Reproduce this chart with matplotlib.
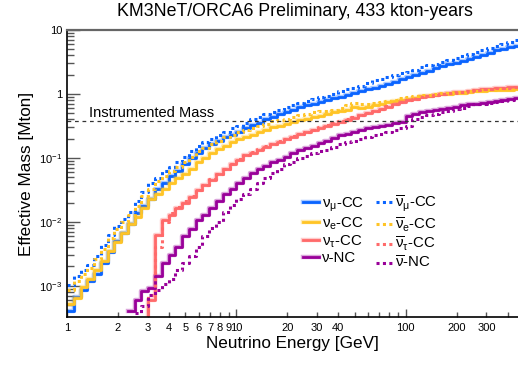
import numpy as np
import matplotlib
matplotlib.use("Agg")
import matplotlib.pyplot as plt
import matplotlib.patheffects as pe

plt.rcParams['font.family'] = ['Liberation Sans', 'DejaVu Sans']
plt.rcParams['mathtext.fontset'] = 'custom'
plt.rcParams['mathtext.rm'] = 'Liberation Sans'
plt.rcParams['mathtext.it'] = 'Liberation Sans:italic'

# energy binning: 25 log bins per decade starting at 1 GeV
n_bins = 67
edges = 10 ** (np.arange(n_bins + 1) / 25.0)

# log10 of effective mass [Mton] per bin (nan = no entry)
nan = np.nan
log_numu_cc = [-3.39, -3.18, -3.07, -2.93, -2.81, -2.65, -2.47, -2.30, -2.17, -2.04,
               -1.87, -1.75, -1.64, -1.48, -1.39, -1.29, -1.20, -1.10, -1.01, -0.92,
               -0.84, -0.78, -0.73, -0.68, -0.64, -0.59, -0.53, -0.48, -0.45, -0.40,
               -0.355, -0.32, -0.29, -0.25, -0.21, -0.18, -0.15, -0.12, -0.10, -0.07,
               -0.05, -0.02, 0.01, 0.04, 0.07, 0.10, 0.13, 0.16, 0.19, 0.23,
               0.27, 0.30, 0.33, 0.36, 0.40, 0.43, 0.47, 0.49, 0.52, 0.55,
               0.58, 0.61, 0.645, 0.68, 0.70, 0.73, 0.755]
log_numubar_cc = [-2.99, -2.85, -2.76, -2.68, -2.54, -2.37, -2.21, -2.07, -1.95, -1.84,
                  -1.68, -1.53, -1.40, -1.31, -1.21, -1.14, -1.06, -0.98, -0.90, -0.82,
                  -0.76, -0.70, -0.65, -0.59, -0.54, -0.50, -0.45, -0.40, -0.355, -0.31,
                  -0.28, -0.245, -0.21, -0.175, -0.135, -0.105, -0.075, -0.05, -0.025, 0.005,
                  0.045, 0.075, 0.10, 0.13, 0.17, 0.21, 0.24, 0.27, 0.30, 0.325,
                  0.35, 0.38, 0.42, 0.45, 0.47, 0.50, 0.535, 0.56, 0.59, 0.62,
                  0.655, 0.685, 0.715, 0.755, 0.785, 0.82, 0.85]
log_nue_cc = [-3.29, -3.20, -3.02, -2.90, -2.76, -2.62, -2.46, -2.31, -2.17, -2.04,
              -1.92, -1.78, -1.65, -1.57, -1.48, -1.40, -1.32, -1.25, -1.17, -1.07,
              -0.995, -0.92, -0.855, -0.81, -0.76, -0.71, -0.675, -0.635, -0.60, -0.565,
              -0.525, -0.495, -0.465, -0.44, -0.415, -0.385, -0.36, -0.34, -0.315, -0.29,
              -0.275, -0.245, -0.20, -0.215, -0.20, -0.175, -0.15, -0.13, -0.105, -0.09,
              -0.075, -0.06, -0.04, -0.035, -0.02, -0.005, 0.005, 0.01, 0.02, 0.035,
              0.045, 0.05, 0.06, 0.06, 0.065, 0.065, 0.075]
log_nuebar_cc = [-3.07, -2.92, -2.81, -2.73, -2.59, -2.43, -2.26, -2.12, -2.00, -1.89,
                 -1.75, -1.60, -1.48, -1.37, -1.29, -1.21, -1.14, -1.06, -0.98, -0.90,
                 -0.84, -0.78, -0.73, -0.68, -0.64, -0.59, -0.56, -0.53, -0.495, -0.465,
                 -0.43, -0.41, -0.385, -0.355, -0.33, -0.31, -0.29, -0.275, -0.26, -0.245,
                 -0.215, -0.175, -0.135, -0.165, -0.15, -0.135, -0.12, -0.105, -0.09, -0.065,
                 -0.05, -0.035, -0.02, -0.01, 0.005, 0.01, 0.02, 0.03, 0.035, 0.045,
                 0.05, 0.06, 0.065, 0.065, 0.075, 0.075, 0.08]
log_nutau_cc = [nan, nan, nan, nan, nan, nan, nan, nan, nan, nan,
                nan, -5.0, -3.23, -2.21, -1.98, -1.89, -1.79, -1.70, -1.62, -1.51,
                -1.43, -1.34, -1.26, -1.18, -1.10, -1.03, -0.96, -0.917, -0.87, -0.823,
                -0.784, -0.745, -0.706, -0.667, -0.628, -0.597, -0.566, -0.527, -0.495, -0.472,
                -0.433, -0.402, -0.37, -0.331, -0.30, -0.269, -0.23, -0.198, -0.159, -0.128,
                -0.097, -0.073, -0.05, -0.034, -0.011, 0.005, 0.02, 0.028, 0.036, 0.052,
                0.067, 0.075, 0.083, 0.091, 0.098, 0.106, 0.114]
log_nutaubar_cc = [nan, nan, nan, nan, nan, nan, nan, nan, nan, nan,
                   nan, -5.0, -3.15, -2.40, -2.00, -1.86, -1.77, -1.68, -1.60, -1.50,
                   -1.42, -1.33, -1.25, -1.17, -1.09, -1.02, -0.95, -0.91, -0.86, -0.82,
                   -0.78, -0.74, -0.70, -0.66, -0.62, -0.59, -0.56, -0.52, -0.49, -0.46,
                   -0.43, -0.40, -0.36, -0.33, -0.30, -0.265, -0.23, -0.195, -0.16, -0.13,
                   -0.10, -0.075, -0.05, -0.03, -0.015, 0.00, 0.01, 0.02, 0.03, 0.045,
                   0.06, 0.07, 0.08, 0.085, 0.09, 0.10, 0.11]
log_nu_nc = [nan, nan, nan, nan, nan, nan, nan, nan, nan, -3.39,
             -3.23, -3.09, -3.03, -2.85, -2.65, -2.52, -2.39, -2.23, -2.12, -1.98,
             -1.89, -1.78, -1.67, -1.57, -1.48, -1.39, -1.32, -1.245, -1.17, -1.12,
             -1.07, -1.03, -0.98, -0.93, -0.885, -0.85, -0.81, -0.77, -0.73, -0.69,
             -0.65, -0.62, -0.59, -0.565, -0.54, -0.52, -0.495, -0.48, -0.455, -0.44,
             -0.34, -0.315, -0.29, -0.27, -0.245, -0.23, -0.215, -0.20, -0.18, -0.165,
             -0.15, -0.135, -0.12, -0.105, -0.09, -0.075, -0.06]
log_nubar_nc = [nan, nan, nan, nan, nan, nan, nan, nan, nan, nan,
                -3.42, -3.32, -3.15, -3.07, -2.98, -2.89, -2.76, -2.65, -2.53, -2.39,
                -2.23, -2.10, -2.00, -1.85, -1.745, -1.65, -1.57, -1.48, -1.39, -1.31,
                -1.23, -1.17, -1.10, -1.06, -1.01, -0.97, -0.93, -0.90, -0.87, -0.83,
                -0.79, -0.76, -0.73, -0.705, -0.68, -0.65, -0.62, -0.59, -0.56, -0.535,
                -0.495, -0.385, -0.355, -0.33, -0.31, -0.285, -0.26, -0.24, -0.215, -0.19,
                -0.165, -0.15, -0.135, -0.12, -0.105, -0.09, -0.075]

instrumented_mass = 0.373  # Mton

blue = '#0a64ff'
yellow = '#ffc426'
red = '#ff6a6a'
purple = '#990099'

series = [
    (log_numu_cc, blue, '-', r'ν$_\mathrm{μ}$-CC'),
    (log_nue_cc, yellow, '-', r'ν$_\mathrm{e}$-CC'),
    (log_nutau_cc, red, '-', r'ν$_\mathrm{τ}$-CC'),
    (log_nu_nc, purple, '-', 'ν-NC'),
    (log_numubar_cc, blue, ':', r'$\mathrm{\overline{ν}_{μ}}$-CC'),
    (log_nuebar_cc, yellow, ':', r'$\mathrm{\overline{ν}_{e}}$-CC'),
    (log_nutaubar_cc, red, ':', r'$\mathrm{\overline{ν}_{τ}}$-CC'),
    (log_nubar_nc, purple, ':', r'$\mathrm{\overline{ν}}$-NC'),
]

fig = plt.figure(figsize=(5.18, 3.69), dpi=100)
ax = fig.add_axes([67 / 518, 1 - 317.3 / 369, (518 - 67) / 518, (317.3 - 30) / 369])

for vals, col, ls, lab in series:
    m = 10 ** np.array(vals, dtype=float)
    y = np.append(m, m[-1])
    if ls == '-':
        ax.step(edges, y, where='post', color=col, lw=2.0, label=lab,
                path_effects=[pe.Stroke(linewidth=3.2, foreground=col, alpha=0.35), pe.Normal()])
    else:
        ax.step(edges, y, where='post', color=col, lw=2.2, linestyle=(0, (1.0, 1.1)), label=lab)

ax.axhline(instrumented_mass, color='#333333', lw=0.9, linestyle=(0, (3, 3)))
ax.text(1.34, 0.428, 'Instrumented Mass', fontsize=10.5, va='baseline', ha='left')

ax.set_xscale('log')
ax.set_yscale('log')
ax.set_xlim(1, 10 ** ((518 - 67) / 169.3))

ax.set_xticks([1, 10, 100], ['1', '10', '100'])
minor_x = [2, 3, 4, 5, 6, 7, 8, 9, 20, 30, 40, 50, 60, 70, 80, 90, 200, 300, 400]
minor_lab = ['2', '3', '4', '5', '6', '7', '8', '9', '20', '30', '40', '', '', '', '', '',
             '200', '300', '']
ax.set_xticks(minor_x, minor_lab, minor=True)
ax.set_yticks([1e-3, 1e-2, 1e-1, 1, 10], ['$10^{-3}$', '$10^{-2}$', '$10^{-1}$', '1', '10'])
ax.set_yticks([f * 10.0 ** p for p in range(-4, 1) for f in range(2, 10)], minor=True)
ax.set_ylim(3.2e-4, 10)

ax.tick_params(axis='both', which='both', direction='in', labelsize=8, color='#555555')
ax.tick_params(axis='y', which='major', length=9.5, width=1.0)
ax.tick_params(axis='y', which='minor', length=5, width=1.0)
ax.tick_params(axis='x', which='major', length=6, width=1.0, pad=4)
ax.tick_params(axis='x', which='minor', length=3.5, width=1.0, pad=4)
ax.tick_params(axis='y', which='minor', labelleft=False)

ax.spines['right'].set_visible(False)
ax.spines['top'].set_color('#666666')
ax.spines['top'].set_linewidth(1.6)
ax.spines['left'].set_linewidth(1.2)
ax.spines['bottom'].set_linewidth(1.2)

ax.set_xlabel('Neutrino Energy [GeV]', fontsize=12.3, labelpad=2)
ax.set_ylabel('Effective Mass [Mton]', fontsize=12.3, labelpad=4)
fig.text(295 / 518, 1 - 11 / 369, 'KM3NeT/ORCA6 Preliminary, 433 kton-years',
         fontsize=12.8, ha='center', va='center')

ax.legend(ncol=2, frameon=False, fontsize=10.8, loc='upper left',
          bbox_to_anchor=(303 / 518, 1 - 194 / 369), bbox_transform=fig.transFigure,
          handlelength=1.05, handletextpad=0.2, columnspacing=0.8, labelspacing=0.1,
          borderpad=0, borderaxespad=0)

fig.savefig('out.png', dpi=100)
